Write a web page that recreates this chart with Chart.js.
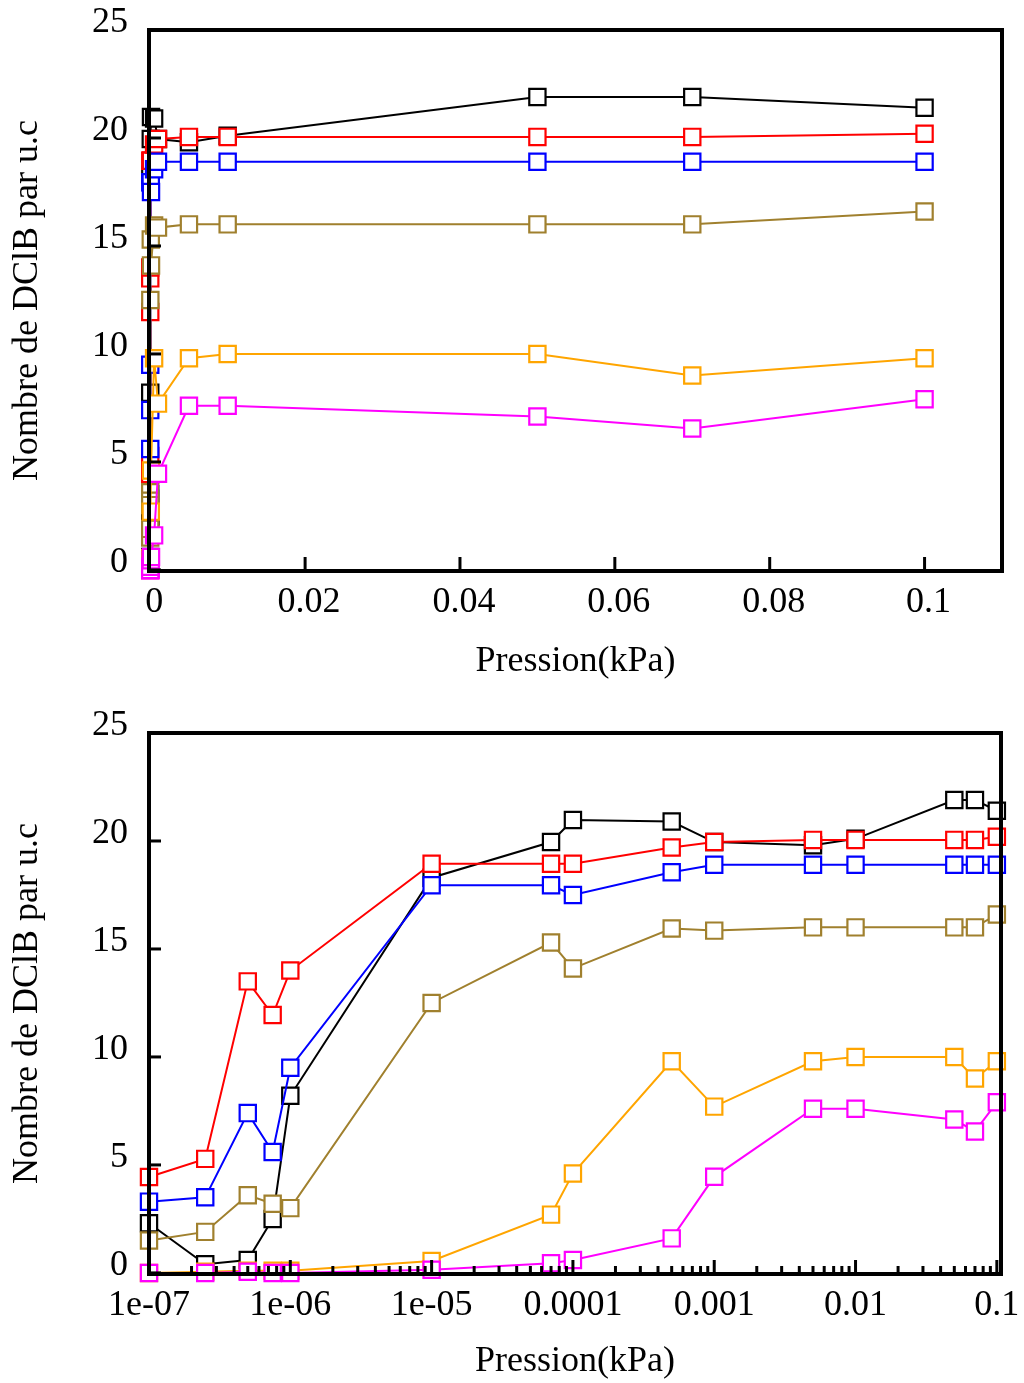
<!DOCTYPE html>
<html><head><meta charset="utf-8">
<script src="https://cdn.jsdelivr.net/npm/chart.js@4.4.1/dist/chart.umd.min.js"></script>
<style>
html,body{margin:0;padding:0;background:#fff;overflow:hidden;width:1024px;height:1383px;}
#c1{position:absolute;left:0;top:0;}
#c2{position:absolute;left:0;top:700px;}
</style></head><body>
<canvas id="c1" width="1024" height="691"></canvas>
<canvas id="c2" width="1024" height="683"></canvas>
<script>
// ---- data (pressure in kPa) ----
const pressions = [1e-7, 2.5e-7, 5e-7, 7.5e-7, 1e-6, 1e-5, 7e-5, 1e-4, 5e-4, 1e-3, 5e-3, 1e-2, 0.05, 0.07, 0.1];
const serieNoir    = [2.3, 0.4, 0.6, 2.5, 8.2, 18.3, 19.95, 20.97, 20.9, 19.95, 19.8, 20.1, 21.9, 21.9, 21.4];
const serieRouge   = [4.44, 5.28, 13.5, 11.94, 14.0, 18.95, 18.95, 18.95, 19.7, 19.95, 20.05, 20.05, 20.05, 20.05, 20.2];
const serieBleu    = [3.3, 3.5, 7.4, 5.6, 9.5, 17.95, 17.95, 17.5, 18.55, 18.9, 18.9, 18.9, 18.9, 18.9, 18.9];
const serieBrun    = [1.5, 1.9, 3.6, 3.2, 3.0, 12.5, 15.3, 14.1, 15.95, 15.85, 16.0, 16.0, 16.0, 16.0, 16.6];
const serieOrange  = [0, 0.05, 0.1, 0.1, 0.1, 0.55, 2.7, 4.6, 9.8, 7.7, 9.8, 10.0, 10.0, 9.0, 9.8];
const serieMagenta = [0, 0, 0.05, 0, 0, 0.15, 0.45, 0.6, 1.6, 4.45, 7.6, 7.6, 7.1, 6.55, 7.9];

const seriesNames  = ['noir', 'rouge', 'bleu', 'brun', 'orange', 'magenta'];
const seriesColors = ['#000000', '#ff0000', '#0000ff', '#a0802e', '#ffa500', '#ff00ff'];
const seriesValues = [serieNoir, serieRouge, serieBleu, serieBrun, serieOrange, serieMagenta];

// ---- tick labels ----
const yTicks = [0, 5, 10, 15, 20, 25];
const yTickLabels = ['0', '5', '10', '15', '20', '25'];
const linTicks = [0, 0.02, 0.04, 0.06, 0.08, 0.1];
const linTickLabels = ['0', '0.02', '0.04', '0.06', '0.08', '0.1'];
const logTicks = [1e-7, 1e-6, 1e-5, 1e-4, 1e-3, 1e-2, 1e-1];
const logTickLabels = ['1e-07', '1e-06', '1e-05', '0.0001', '0.001', '0.01', '0.1'];
const logMinorFactors = [2, 3, 4, 5, 6, 7, 8, 9];

const xTitle = 'Pression(kPa)';
const yTitle = 'Nombre de DClB par u.c';

const FONT = 'Liberation Serif';

function makeDatasets() {
  return seriesValues.map((vals, i) => ({
    label: seriesNames[i],
    data: pressions.map((p, j) => ({x: p, y: vals[j]})),
    borderColor: seriesColors[i],
    backgroundColor: seriesColors[i],
    borderWidth: 2,
    pointStyle: 'rect',
    pointRadius: 11.5,
    pointBorderWidth: 2.2,
    pointBorderColor: seriesColors[i],
    pointBackgroundColor: '#ffffff',
    tension: 0,
    clip: false,
    order: seriesValues.length - i
  }));
}

function line(ctx, x1, y1, x2, y2) {
  ctx.beginPath(); ctx.moveTo(x1, y1); ctx.lineTo(x2, y2); ctx.stroke();
}

const framePlugin = {
  id: 'frame',
  afterDatasetsDraw(chart, args, opts) {
    const {ctx, chartArea: a, scales: {x, y}} = chart;
    ctx.save();
    ctx.strokeStyle = '#000';
    ctx.lineWidth = 3;
    yTicks.forEach(v => {
      const py = y.getPixelForValue(v);
      line(ctx, a.left, py, a.left + 12, py);
    });
    opts.major.forEach(v => {
      const px = x.getPixelForValue(v);
      line(ctx, px, a.bottom, px, a.bottom - 14);
    });
    (opts.minor || []).forEach(v => {
      const px = x.getPixelForValue(v);
      if (px > a.left + 1 && px < a.right - 1) line(ctx, px, a.bottom, px, a.bottom - 8);
    });
    ctx.lineWidth = 4;
    ctx.strokeRect(a.left, a.top, a.right - a.left, a.bottom - a.top);
    ctx.restore();
  }
};

function yScale() {
  return {
    type: 'linear', min: -0.05, max: 25,
    grid: {display: false, drawTicks: false}, border: {display: false},
    afterBuildTicks: s => { s.ticks = yTicks.map(v => ({value: v})); },
    afterFit: s => { s.width = 149; s.paddingTop = 0; s.paddingBottom = 0; },
    ticks: {
      callback: v => yTickLabels[yTicks.indexOf(v)],
      font: {family: FONT, size: 36}, color: '#000', padding: 21, labelOffset: -7, autoSkip: false
    },
    title: {display: true, text: yTitle, font: {family: FONT, size: 36}, color: '#000', padding: {top: 6, bottom: 0}}
  };
}

const common = {
  responsive: false, animation: false, devicePixelRatio: 1,
  plugins: {legend: {display: false}, tooltip: {enabled: false}}
};

// ---- top chart: linear pressure axis ----
new Chart(document.getElementById('c1'), {
  type: 'line',
  data: {datasets: makeDatasets()},
  plugins: [framePlugin],
  options: Object.assign({}, common, {
    layout: {padding: {left: 0, right: 22, top: 30, bottom: 0}},
    plugins: Object.assign({}, common.plugins, {frame: {major: linTicks.slice(1)}}),
    scales: {
      x: {
        type: 'linear', min: -0.00016, max: 0.11,
        grid: {display: false, drawTicks: false}, border: {display: false},
        afterBuildTicks: s => { s.ticks = linTicks.map(v => ({value: v})); },
        afterFit: s => { s.height = 120; s.paddingLeft = 0; s.paddingRight = 0; },
        ticks: {
          callback: v => linTickLabels[linTicks.indexOf(v)],
          font: {family: FONT, size: 36}, color: '#000', padding: 10, labelOffset: 4,
          maxRotation: 0, autoSkip: false
        },
        title: {display: true, text: xTitle, font: {family: FONT, size: 36}, color: '#000', padding: {top: 0, bottom: 8}}
      },
      y: yScale()
    }
  })
});

// ---- bottom chart: logarithmic pressure axis ----
const minorTicks = [];
logTicks.slice(0, -1).forEach(d => logMinorFactors.forEach(f => minorTicks.push(d * f)));

new Chart(document.getElementById('c2'), {
  type: 'line',
  data: {datasets: makeDatasets()},
  plugins: [framePlugin],
  options: Object.assign({}, common, {
    layout: {padding: {left: 0, right: 23, top: 33, bottom: 0}},
    plugins: Object.assign({}, common.plugins, {frame: {major: logTicks, minor: minorTicks}}),
    scales: {
      x: {
        type: 'logarithmic', min: 1e-7, max: 0.107,
        grid: {display: false, drawTicks: false}, border: {display: false},
        afterBuildTicks: s => { s.ticks = logTicks.map(v => ({value: v, major: true})); },
        afterFit: s => { s.height = 109; s.paddingLeft = 0; s.paddingRight = 0; },
        ticks: {
          callback: v => logTickLabels[logTicks.indexOf(v)],
          font: {family: FONT, size: 36}, color: '#000', padding: 10,
          maxRotation: 0, autoSkip: false
        },
        title: {display: true, text: xTitle, font: {family: FONT, size: 36}, color: '#000', padding: {top: 0, bottom: 0}}
      },
      y: yScale()
    }
  })
});
</script>
</body></html>
